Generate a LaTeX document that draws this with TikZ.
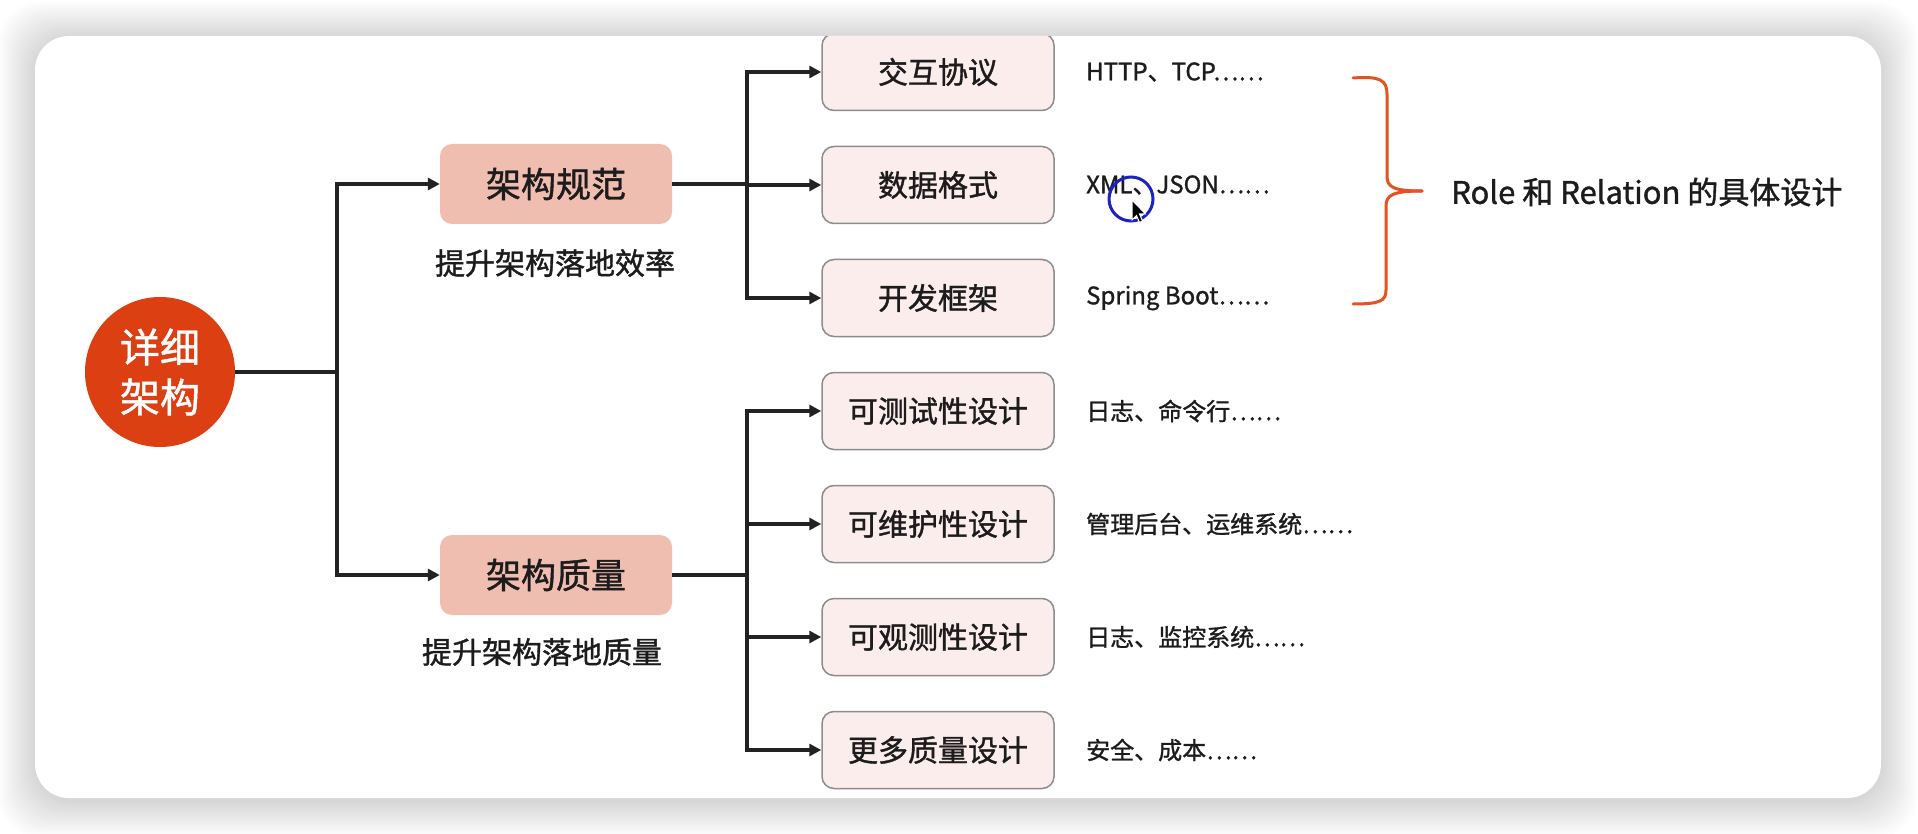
\documentclass[tikz,border=0pt]{standalone}
\usepackage{fontspec}
\setmainfont{Noto Sans CJK SC}[FakeBold=1.2]
\usetikzlibrary{arrows.meta,calc}
\definecolor{bgcol}{HTML}{FFFFFF}
\definecolor{circfill}{HTML}{DB3F12}
\definecolor{lvlone}{HTML}{F0BDB1}
\definecolor{lvltwo}{HTML}{FBEDEC}
\definecolor{lvltwoborder}{HTML}{8C8C8C}
\definecolor{bracecol}{HTML}{E2531F}
\definecolor{linecol}{HTML}{222222}
\definecolor{txtcol}{HTML}{1C1C1C}
\definecolor{ringcol}{HTML}{1E22C0}
\tikzset{
  trunk/.style={line width=3.5pt, draw=linecol},
  conn/.style={line width=3.5pt, draw=linecol, -{Triangle[length=12pt,width=12pt]}},
  onebox/.style={rounded corners=12pt, fill=lvlone, minimum width=232pt, minimum height=80pt, inner sep=0pt, font=\fontsize{35}{42}\selectfont, text=txtcol},
  twobox/.style={rounded corners=12pt, fill=lvltwo, draw=lvltwoborder, line width=1.5pt, minimum width=232pt, minimum height=77pt, inner sep=0pt, font=\fontsize{30}{36}\selectfont, text=txtcol},
  caption/.style={font=\fontsize{30}{36}\selectfont, text=txtcol, inner sep=0pt},
  note/.style={font=\fontsize{24}{29}\selectfont, anchor=west, text=txtcol, inner sep=0pt},
}
\begin{document}
\begin{tikzpicture}[x=1pt,y=-1pt]
\useasboundingbox (0,0) rectangle (1918,834);
\fill[bgcol] (0,0) rectangle (1918,834);
% shadow
\foreach \i in {1,...,20}{
  \fill[black, opacity=0.009, rounded corners=40pt] ({35-1.8*\i},{36-1.8*\i+2}) rectangle ({1881+1.8*\i},{798+1.8*\i+3});
}
% card
\fill[white, rounded corners=34pt] (35,36) rectangle (1881,798);
\begin{scope}
\clip[rounded corners=34pt] (35,36) rectangle (1881,798);
% root
\node[circle, fill=circfill, minimum size=150pt, inner sep=0pt, text=white, align=center, font=\fontsize{40}{50}\selectfont] (root) at (160,372) {详细\\架构};
% level one
\node[onebox] (spec) at (556,184) {架构规范};
\node[onebox] (qual) at (556,575) {架构质量};
\node[caption] (specnote) at (555,263) {提升架构落地效率};
\node[caption] (qualnote) at (542,652) {提升架构落地质量};
% level two
\node[twobox] (p1) at (938,72) {交互协议};
\node[twobox] (p2) at (938,185) {数据格式};
\node[twobox] (p3) at (938,298) {开发框架};
\node[twobox] (q1) at (938,411) {可测试性设计};
\node[twobox] (q2) at (938,524) {可维护性设计};
\node[twobox] (q3) at (938,637) {可观测性设计};
\node[twobox] (q4) at (938,750) {更多质量设计};
% notes
\node[note] (n1) at (1086,72) {HTTP、TCP……};
\node[note] (n2) at (1086,185) {XML、JSON……};
\node[note] (n3) at (1086,298) {Spring Boot……};
\node[note] (m1) at (1086,411) {日志、命令行……};
\node[note] (m2) at (1086,524) {管理后台、运维系统……};
\node[note] (m3) at (1086,637) {日志、监控系统……};
\node[note] (m4) at (1086,750) {安全、成本……};
% connectors
\coordinate (j1) at (337,372);
\draw[trunk] (root.east) -- (j1);
\draw[conn] (j1) |- (spec.west);
\draw[conn] (j1) |- (qual.west);
\coordinate (j2) at ([xshift=75pt]spec.east);
\draw[trunk] (spec.east) -- (j2);
\foreach \t in {p1,p2,p3}{\draw[conn] (j2) |- (\t.west);}
\coordinate (j3) at ([xshift=75pt]qual.east);
\draw[trunk] (qual.east) -- (j3);
\foreach \t in {q1,q2,q3,q4}{\draw[conn] (j3) |- (\t.west);}
% brace
\draw[bracecol, line width=3pt, line cap=round]
  (1353,78) .. controls (1380,76) and (1387,80) .. (1387,94) -- (1387,176)
  .. controls (1387,187) and (1393,191) .. (1422,191);
\draw[bracecol, line width=3pt, line cap=round]
  (1422,191) .. controls (1393,191) and (1386,195) .. (1386,206) -- (1386,290)
  .. controls (1386,301) and (1380,304) .. (1353,304);
\node[font=\fontsize{31}{37}\selectfont, anchor=west, text=txtcol, inner sep=0pt] (role) at (1451,192) {Role 和 Relation 的具体设计};
% cursor highlight
\draw[ringcol, line width=3pt] (1131,199) circle (22pt);
\filldraw[fill=black, draw=white, line width=1pt] (1132,200) -- (1132,220) -- (1136.5,215.5) -- (1139.5,222.5) -- (1142.5,221) -- (1139.5,214) -- (1145.5,214) -- cycle;
\end{scope}
\end{tikzpicture}
\end{document}
